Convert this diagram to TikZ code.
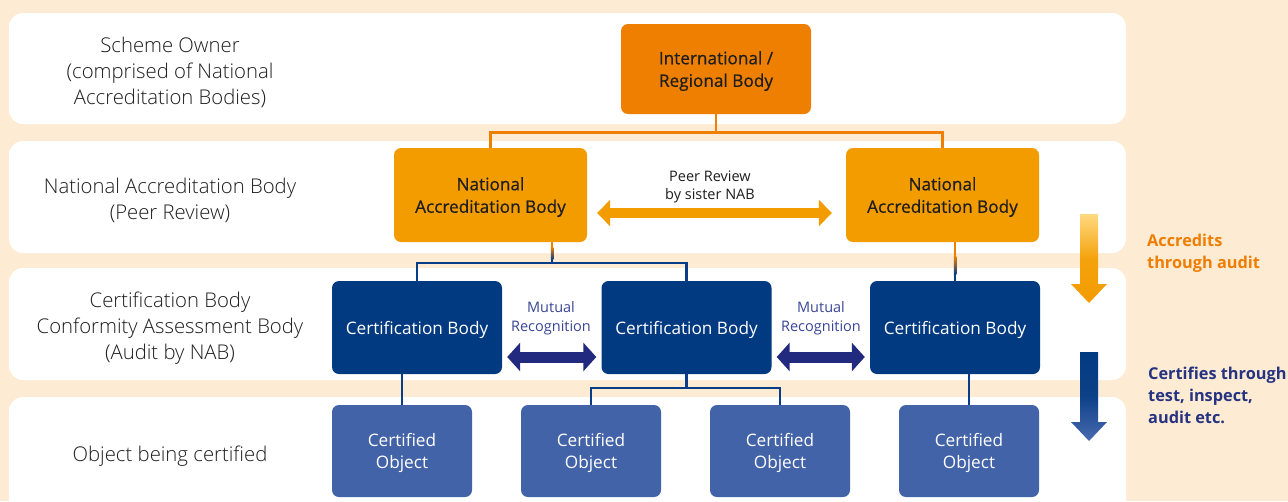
\documentclass[tikz,border=0pt]{standalone}
\usepackage{fontspec}
\setmainfont{Open Sans}
\newfontfamily\lightfont{Open Sans Light}
\newfontfamily\medfont{Open Sans}[FakeBold=0.6]
\usetikzlibrary{calc,arrows.meta}
\definecolor{peach}{RGB}{253,235,212}
\definecolor{intlorange}{RGB}{238,127,0}
\definecolor{nabamber}{RGB}{243,156,0}
\definecolor{cbnavy}{RGB}{2,58,129}
\definecolor{coblue}{RGB}{67,99,169}
\definecolor{linkblue}{RGB}{10,61,135}
\definecolor{mutualnavy}{RGB}{33,42,127}
\definecolor{mutualtext}{RGB}{58,70,150}
\definecolor{txtgray}{RGB}{30,30,30}
\definecolor{legorange}{RGB}{239,125,0}
\definecolor{legblue}{RGB}{38,51,129}
\definecolor{legyellow}{RGB}{255,218,128}
\definecolor{leglight}{RGB}{74,106,176}
\begin{document}
\begin{tikzpicture}[x=1pt,y=-1pt,
  band/.style={fill=white,rounded corners=14pt},
  rowtext/.style={align=center,inner sep=0pt,text=txtgray,font=\lightfont\fontsize{20.3}{26}\selectfont},
  intlbox/.style={fill=intlorange,rounded corners=7pt,inner sep=0pt,align=center,text=txtgray,text depth=0pt,
    minimum width=190pt,minimum height=90pt,font=\medfont\fontsize{17.2}{22.5}\selectfont},
  nabbox/.style={intlbox,fill=nabamber,minimum width=193pt,minimum height=94pt},
  cbbox/.style={intlbox,fill=cbnavy,text=white,minimum width=170pt,minimum height=93pt,
    font=\fontsize{17.2}{22.5}\selectfont},
  cobox/.style={cbbox,fill=coblue,minimum width=140pt,minimum height=92pt},
  oline/.style={draw=intlorange,line width=2.5pt},
  bline/.style={draw=linkblue,line width=2.5pt},
  note/.style={align=center,inner sep=0pt,text=txtgray,font=\fontsize{14.5}{18.5}\selectfont},
  peerarrow/.style={draw=nabamber,line width=10pt,arrows={Triangle[width=26pt,length=13pt]-Triangle[width=26pt,length=13pt]}},
  mutualarrow/.style={draw=mutualnavy,line width=11pt,arrows={Triangle[width=28pt,length=13pt]-Triangle[width=28pt,length=13pt]}},
  legtext/.style={anchor=west,align=left,inner sep=0pt,font=\bfseries\fontsize{16.3}{22}\selectfont}
]
\clip (0,0) rectangle (1288,501);
\fill[peach] (0,0) rectangle (1288,501);

%bands
\fill[band] (9,13) rectangle (1126,124);
\fill[band] (9,141) rectangle (1126,253);
\fill[band] (9,268) rectangle (1126,380);
\fill[band] (9,397) rectangle (1126,530);

%row labels
\node[rowtext] (lblOwner) at (170,72.5) {Scheme Owner\\(comprised of National\\Accreditation Bodies)};
\node[rowtext] (lblNab) at (170,200.5) {National Accreditation Body\\(Peer Review)};
\node[rowtext] (lblCb) at (170,328.5) {Certification Body\\Conformity Assessment Body\\(Audit by NAB)};
\node[rowtext] (lblObj) at (170,456.5) {Object being certified};

%boxes
\node[intlbox] (intl) at (716,69) {International /\\Regional Body};
\node[nabbox] (nabL) at (490.5,195) {National\\Accreditation Body};
\node[nabbox] (nabR) at (942.5,195) {National\\Accreditation Body};
\node[cbbox] (cbL) at (417,327.5) {Certification Body};
\node[cbbox] (cbM) at (686.5,327.5) {Certification Body};
\node[cbbox] (cbR) at (955,327.5) {Certification Body};
\node[cobox] (coA) at (402,451) {Certified\\Object};
\node[cobox] (coB) at (591,451) {Certified\\Object};
\node[cobox] (coC) at (780,451) {Certified\\Object};
\node[cobox] (coD) at (969,451) {Certified\\Object};

%scheme owner to NABs
\draw[oline] (intl.south) -- ++(0,18.5) -| (nabL.north);
\draw[oline] (intl.south) -- ++(0,18.5) -| (nabR.north);

%NABs to certification bodies
\coordinate (nabLfoot) at ([xshift=61.5pt]nabL.south);
\draw[bline] (nabLfoot) -- ++(0,21) -| (cbL.north);
\draw[bline] (nabLfoot) -- ++(0,21) -| (cbM.north);
\draw[oline] (nabLfoot) -- ++(0,5);
\shade[top color=intlorange,bottom color=linkblue] ($(nabLfoot)+(-1.25,5)$) rectangle ($(nabLfoot)+(1.25,17)$);

\coordinate (nabRfoot) at (cbR.north |- nabR.south);
\draw[bline] (nabRfoot) -- (cbR.north);
\draw[oline] (nabRfoot) -- ++(0,14);
\shade[top color=intlorange,bottom color=linkblue] ($(nabRfoot)+(-1.25,14)$) rectangle ($(nabRfoot)+(1.25,32)$);

%certification bodies to objects
\draw[bline] (cbL.south -| coA.north) -- (coA.north);
\draw[bline] (cbM.south) -- ++(0,14) -| (coB.north);
\draw[bline] (cbM.south) -- ++(0,14) -| (coC.north);
\draw[bline] (cbR.south -| coD.north) -- (coD.north);

%peer review
\draw[peerarrow] ($(nabL.east)+(10,18)$) -- ($(nabR.west)+(-14,18)$);
\node[note] (peer) at (710,187) {Peer Review\\by sister NAB};

%mutual recognition
\draw[mutualarrow] ($(cbL.east)+(5,29.5)$) -- ($(cbM.west)+(-5,29.5)$);
\draw[mutualarrow] ($(cbM.east)+(5,29.5)$) -- ($(cbR.west)+(-5,29.5)$);
\node[note,text=mutualtext] (mutL) at (551,318) {Mutual\\Recognition};
\node[note,text=mutualtext] (mutR) at (821,318) {Mutual\\Recognition};

%legend
\shade[top color=legyellow,bottom color=nabamber,middle color=nabamber!90!legyellow]
  (1080,214) -- (1098,214) -- (1098,284) -- (1107,284) -- (1089,303) -- (1071,284) -- (1080,284) -- cycle;
\shade[top color=cbnavy,bottom color=leglight,middle color=cbnavy!85!leglight]
  (1080,352) -- (1098,352) -- (1098,422) -- (1107,422) -- (1089,441) -- (1071,422) -- (1080,422) -- cycle;
\node[legtext,text=legorange] (accr) at (1147,253) {Accredits\\through audit};
\node[legtext,text=legblue] (cert) at (1148,395.5) {Certifies through\\test, inspect,\\audit etc.};
\end{tikzpicture}
\end{document}
